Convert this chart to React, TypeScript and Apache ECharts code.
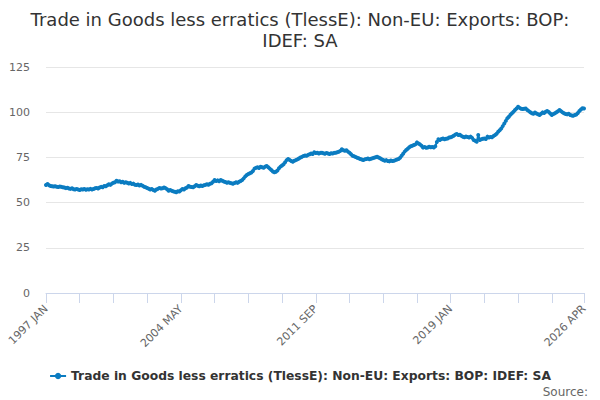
import React, { useEffect, useRef } from "react";
import * as echarts from "echarts";

const TITLE = "Trade in Goods less erratics (TlessE): Non-EU: Exports: BOP:\nIDEF: SA";
const SERIES_NAME = "Trade in Goods less erratics (TlessE): Non-EU: Exports: BOP: IDEF: SA";
const START_YEAR = 1997;
const MONTHS = ["JAN", "FEB", "MAR", "APR", "MAY", "JUN", "JUL", "AUG", "SEP", "OCT", "NOV", "DEC"];

// Monthly values, one row per year (1997 .. 2026 APR)
const VALUES: number[] = [
  59.7, 60.3, 59.6, 59.2, 59.0, 58.9, 59.1, 58.8, 58.6, 58.9, 58.7, 58.5,
  58.3, 58.0, 58.2, 57.8, 57.6, 57.9, 57.4, 57.2, 57.5, 57.3, 57.0, 57.4,
  57.2, 57.5, 57.1, 57.4, 57.3, 57.6, 57.2, 57.5, 57.9, 58.1, 57.8, 58.4,
  58.7, 58.5, 59.2, 59.0, 59.6, 60.1, 59.8, 60.5, 61.0, 61.3, 62.1, 61.6,
  61.8, 61.2, 61.5, 60.9, 61.3, 61.0, 60.6, 60.9, 60.3, 60.5, 59.9, 59.7,
  60.0, 59.5, 59.8, 59.3, 58.8, 58.5, 58.1, 57.7, 57.3, 57.5, 57.0, 56.6,
  57.2, 57.6, 58.1, 57.8, 57.9, 58.3, 58.0, 57.4, 56.6, 57.0, 56.5, 56.2,
  56.0, 55.7, 56.3, 56.1, 56.8, 57.5, 57.2, 57.9, 58.4, 59.2, 58.8, 58.6,
  58.5, 59.1, 59.7, 59.3, 59.0, 59.4, 59.2, 59.6, 59.8, 60.1, 59.9, 60.4,
  60.7, 61.5, 62.5, 62.0, 62.3, 61.8, 62.5, 62.1, 61.7, 61.4, 61.0, 61.3,
  60.9, 60.7, 60.4, 60.8, 61.2, 60.9, 61.5, 62.0, 62.5, 63.4, 64.5, 65.3,
  65.8, 66.2, 66.6, 67.5, 68.8, 69.2, 69.5, 69.1, 69.8, 69.5, 69.3, 69.9,
  70.2, 69.6, 68.8, 68.0, 67.2, 66.8, 67.1, 67.8, 69.0, 69.9, 70.5, 71.2,
  72.3, 73.5, 74.1, 73.6, 73.0, 72.6, 73.1, 73.5, 73.9, 74.4, 75.0, 75.3,
  75.8, 76.1, 75.9, 76.4, 76.7, 77.1, 76.9, 77.8, 77.4, 77.6, 77.2, 77.5,
  77.6, 77.3, 77.0, 77.4, 77.2, 76.9, 77.3, 77.1, 77.5, 77.6, 77.9, 78.1,
  78.6, 79.5, 79.0, 78.7, 78.9, 78.2, 77.6, 76.8, 75.9, 75.6, 75.2, 74.8,
  74.5, 74.1, 73.8, 73.6, 73.9, 74.1, 74.4, 74.0, 74.3, 74.5, 74.8, 75.1,
  75.4, 74.9, 74.5, 74.0, 73.6, 73.2, 73.5, 73.0, 72.8, 73.3, 73.0, 73.2,
  73.5, 73.8, 74.1, 74.8, 75.9, 77.0, 78.2, 79.1, 79.8, 80.6, 81.2, 81.5,
  81.9, 82.2, 83.3, 82.7, 82.2, 81.4, 80.4, 80.8, 80.3, 80.5, 80.9, 80.6,
  80.8, 80.5, 81.2, 83.5, 85.0, 84.6, 85.2, 85.5, 85.0, 85.3, 85.5, 86.0,
  86.2, 86.5, 87.0, 87.6, 87.9, 87.4, 87.5, 86.9, 86.4, 86.1, 86.6, 86.3,
  86.0, 86.5, 85.8, 84.6, 84.2, 83.7, 87.4, 84.6, 85.0, 85.3, 85.5, 85.2,
  86.5, 86.0, 86.3, 86.1, 86.8, 87.4, 88.1, 89.2, 90.0, 91.0, 92.3, 93.8,
  95.2, 96.6, 97.5, 98.6, 99.4, 100.3, 101.2, 102.1, 103.0, 102.4, 101.9, 101.8,
  101.9, 102.1, 101.2, 100.6, 100.0, 99.4, 99.1, 99.8, 99.3, 98.9, 98.5, 99.2,
  99.9, 99.6, 100.2, 100.7, 100.1, 99.3, 98.5, 99.0, 99.4, 100.0, 100.5, 101.2,
  100.6, 99.9, 99.4, 99.0, 98.8, 99.1, 98.5, 98.2, 98.0, 98.4, 98.7, 99.6,
  100.7, 101.5, 102.2, 102.0,
];

const CATEGORIES: string[] = VALUES.map(
  (_, i) => `${START_YEAR + Math.floor(i / 12)} ${MONTHS[i % 12]}`
);
const LABELED = ["1997 JAN", "2004 MAY", "2011 SEP", "2019 JAN", "2026 APR"];
const Y_MAX = 125;
const Y_STEP = 25;

export default function App() {
  const ref = useRef<HTMLDivElement>(null);
  useEffect(() => {
    if (!ref.current) return;
    const chart = echarts.init(ref.current, null, { renderer: "svg" });
    const last = CATEGORIES.length - 1;
    chart.setOption({
      animation: false,
      backgroundColor: "#ffffff",
      textStyle: { fontFamily: "DejaVu Sans" },
      title: {
        text: TITLE,
        left: "center",
        top: 4,
        textStyle: {
          fontFamily: "DejaVu Sans",
          fontSize: 18,
          fontWeight: "normal",
          color: "#333333",
          lineHeight: 21,
        },
      },
      grid: { left: 46, right: 16, top: 67, bottom: 107, containLabel: false },
      xAxis: {
        type: "category",
        data: CATEGORIES,
        boundaryGap: false,
        axisLine: { lineStyle: { color: "#ccd6eb", width: 1 } },
        axisTick: {
          show: true,
          length: 10,
          lineStyle: { color: "#ccd6eb" },
          interval: (i: number) => i % 22 === 0 || i === last,
        },
        axisLabel: {
          rotate: 45,
          interval: (_i: number, v: string) => LABELED.includes(v),
          color: "#666666",
          fontSize: 11,
          fontFamily: "DejaVu Sans",
          margin: 14,
        },
        splitLine: { show: false },
      },
      yAxis: {
        type: "value",
        min: 0,
        max: Y_MAX,
        interval: Y_STEP,
        axisLine: { show: false },
        axisTick: { show: false },
        axisLabel: { color: "#666666", fontSize: 11, fontFamily: "DejaVu Sans", margin: 16 },
        splitLine: { lineStyle: { color: "#e6e6e6", width: 1 } },
      },
      legend: {
        top: 365,
        left: "center",
        itemWidth: 16,
        itemHeight: 8,
        itemGap: 6,
        textStyle: { fontFamily: "DejaVu Sans", fontSize: 12.3, fontWeight: "bold", color: "#333333" },
        data: [SERIES_NAME],
      },
      graphic: [
        {
          type: "text",
          right: 12,
          top: 386,
          style: { text: "Source:", fill: "#666666", fontSize: 12, fontFamily: "DejaVu Sans" },
        },
      ],
      series: [
        {
          name: SERIES_NAME,
          type: "line",
          data: VALUES,
          symbol: "circle",
          symbolSize: 4,
          showAllSymbol: true,
          lineStyle: { color: "#0b7cc1", width: 2 },
          itemStyle: { color: "#0b7cc1" },
        },
      ],
    });
    return () => chart.dispose();
  }, []);
  return (
    <div
      ref={ref}
      style={{ position: "absolute", left: 0, top: 0, width: 600, height: 400 }}
    />
  );
}
